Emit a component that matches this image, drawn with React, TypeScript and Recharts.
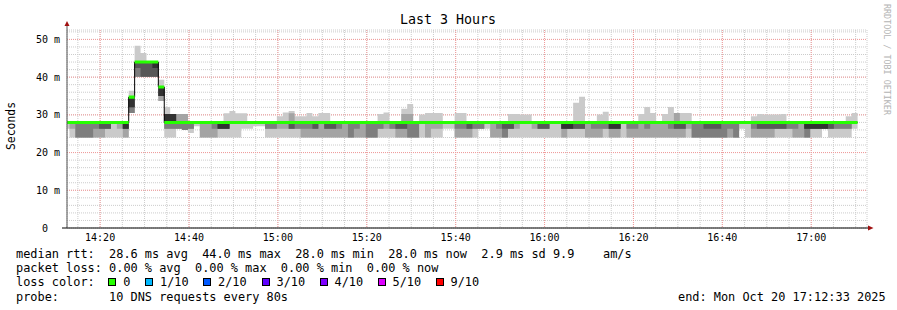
import { ComposedChart, Area, XAxis, YAxis, CartesianGrid } from 'recharts';

const MONO = '"DejaVu Sans Mono", monospace';

// time in seconds after 14:00:00, one rrd step = 80 s
const FIRST_STEP = 706;
const STEP = 80;
const VIEW: [number, number] = [753, 11553]; // 14:12:33 .. 17:12:33

const median = [
  28, 28, 28, 28, 28, 28, 28, 28, 28, 28,
  28, 34.7, 44, 44, 44, 44, 37.4, 28, 28, 28,
  28, 28, 28, 28, 28, 28, 28, 28, 28, 28,
  28, 28, 28, 28, 28, 28, 28, 28, 28, 28,
  28, 28, 28, 28, 28, 28, 28, 28, 28, 28,
  28, 28, 28, 28, 28, 28, 28, 28, 28, 28,
  28, 28, 28, 28, 28, 28, 28, 28, 28, 28,
  28, 28, 28, 28, 28, 28, 28, 28, 28, 28,
  28, 28, 28, 28, 28, 28, 28, 28, 28, 28,
  28, 28, 28, 28, 28, 28, 28, 28, 28, 28,
  28, 28, 28, 28, 28, 28, 28, 28, 28, 28,
  28, 28, 28, 28, 28, 28, 28, 28, 28, 28,
  28, 28, 28, 28, 28, 28, 28, 28, 28, 28,
  28, 28, 28, 28,
];

// the 10 pings of every step, sorted (ms)
const ping1 = [
  26.3, 24, 24, 24, 24, 24, 24, 24, 24, 24,
  24, 30.5, 40.1, 40.1, 40.1, 40.1, 33.7, 24, 24, 26.3,
  26, 25.2, 27, 24, 24, 24, 24, 24, 24, 24,
  26.3, 26.3, 27, 27, 24, 24, 24, 24, 24, 24,
  24, 24, 24, 24, 24, 24, 24, 24, 24, 24,
  24, 24, 24, 24, 24, 24, 24, 24, 24, 24,
  24, 24, 24, 24, 26.3, 26.3, 24, 24, 24, 24,
  26.3, 26.3, 24, 24, 24, 24, 24, 24, 24, 24,
  24, 24, 24, 24, 24, 24, 24, 24, 24, 24,
  24, 24, 24, 24, 24, 24, 24, 24, 24, 24,
  24, 24, 24, 24, 24, 24, 24, 24, 24, 24,
  24, 24, 24, 24, 26.3, 24, 24, 24, 24, 24,
  24, 24, 24, 24, 24, 24, 24, 24, 26.3, 24,
  24, 24, 24, 26.3,
];
const ping2 = [
  28, 26.3, 24, 24, 24, 24, 24, 26.3, 28, 26.3,
  24, 30.5, 40.1, 40.1, 40.1, 40.1, 33.7, 26.3, 26.3, 26.3,
  26, 26.3, 28, 24, 24, 24, 26.3, 26.3, 28, 28,
  28, 28, 28, 28, 26.3, 26.3, 26.3, 26.3, 26.3, 26.3,
  24, 24, 24, 24, 24, 24, 24, 24, 24, 24,
  24, 24, 24, 26.3, 26.3, 26.3, 24, 24, 24, 24,
  28, 24, 26.3, 26.3, 28, 28, 24, 24, 24, 26.3,
  26.3, 28, 24, 24, 24, 26.3, 26.3, 28, 28, 26.3,
  26.3, 26.3, 28, 28, 24, 26.3, 26.3, 26.3, 24, 24,
  24, 26.3, 24, 24, 28, 24, 24, 24, 24, 24,
  24, 24, 24, 24, 24, 26.3, 24, 24, 24, 24,
  24, 24, 24, 24, 28, 28, 24, 24, 24, 24,
  26.3, 26.3, 26.3, 24, 24, 24, 26.3, 26.3, 26.3, 26.3,
  26.3, 26.3, 26.3, 28,
];
const ping3 = [
  28, 28, 24, 24, 24, 26.3, 26.3, 26.3, 28, 28,
  26.3, 30.5, 40.1, 40.1, 40.1, 40.1, 35, 26.3, 26.3, 26.3,
  26, 26.3, 28, 28, 28, 26.3, 26.3, 26.3, 28, 28,
  28, 28, 28, 28, 26.3, 26.3, 28, 28, 26.3, 26.3,
  26.3, 26.3, 26.3, 28, 26.3, 26.3, 26.3, 28, 24, 26.3,
  28, 24, 24, 26.3, 28, 26.3, 26.3, 26.3, 24, 24,
  28, 28, 28, 28, 28, 28, 26.3, 26.3, 26.3, 26.3,
  26.3, 28, 28, 26.3, 24, 26.3, 28, 28, 28, 28,
  26.3, 26.3, 28, 28, 26.3, 26.3, 26.3, 26.3, 28, 26.3,
  26.3, 26.3, 26.3, 26.3, 28, 26.3, 26.3, 28, 26.3, 28,
  28, 28, 26.3, 26.3, 26.3, 28, 24, 24, 24, 24,
  24, 24, 26.3, 24, 28, 28, 26.3, 26.3, 26.3, 26.3,
  26.3, 26.3, 26.3, 26.3, 28, 24, 26.3, 26.3, 26.3, 26.3,
  26.3, 26.3, 26.3, 28,
];
const ping4 = [
  28, 28, 28, 28, 28, 28, 26.3, 26.3, 28, 28,
  26.3, 32, 42.4, 40.1, 40.1, 40.1, 35, 28, 28, 28,
  28, 28, 28, 28, 28, 28, 26.3, 26.3, 28, 28,
  28, 28, 28, 28, 28, 28, 28, 28, 26.3, 28,
  28, 28, 26.3, 28, 26.3, 26.3, 28, 28, 28, 28,
  28, 28, 28, 28, 28, 28, 26.3, 26.3, 28, 28,
  28, 28, 28, 28, 28, 28, 28, 28, 26.3, 28,
  28, 28, 28, 28, 26.3, 26.3, 28, 28, 28, 28,
  26.3, 26.3, 28, 28, 26.3, 26.3, 26.3, 26.3, 28, 28,
  28, 28, 26.3, 26.3, 28, 28, 28, 28, 28, 28,
  28, 28, 28, 26.3, 26.3, 28, 28, 28, 26.3, 26.3,
  26.3, 28, 28, 28, 28, 28, 28, 26.3, 26.3, 26.3,
  26.3, 26.3, 28, 28, 28, 26.3, 26.3, 26.3, 26.3, 26.3,
  28, 28, 28, 28,
];
const ping5 = [
  28, 28, 28, 28, 28, 28, 28, 28, 28, 28,
  26.3, 32, 44, 44, 44, 42.4, 35, 28, 28, 28,
  28, 28, 28, 28, 28, 28, 26.3, 26.3, 28, 28,
  28, 28, 28, 28, 28, 28, 28, 28, 28, 28,
  28, 28, 28, 28, 28, 28, 28, 28, 28, 28,
  28, 28, 28, 28, 28, 28, 28, 28, 28, 28,
  28, 28, 28, 28, 28, 28, 28, 28, 28, 28,
  28, 28, 28, 28, 28, 28, 28, 28, 28, 28,
  28, 28, 28, 28, 26.3, 26.3, 28, 28, 28, 28,
  28, 28, 26.3, 26.3, 28, 28, 28, 28, 28, 28,
  28, 28, 28, 28, 28, 28, 28, 28, 28, 28,
  28, 28, 28, 28, 28, 28, 28, 28, 28, 28,
  28, 28, 28, 28, 28, 26.3, 26.3, 26.3, 26.3, 28,
  28, 28, 28, 28,
];
const ping6 = [
  28, 28, 28, 28, 28, 28, 28, 28, 28, 28,
  28, 34.7, 44, 44, 44, 44, 37.4, 30.2, 30.2, 28,
  28, 28, 28, 28, 28, 28, 28, 28, 28, 28,
  28, 28, 28, 28, 28, 28, 28, 28, 28, 28,
  28, 28, 28, 28, 28, 28, 28, 28, 28, 28,
  28, 28, 28, 28, 28, 28, 28, 28, 28, 28,
  28, 28, 28, 28, 28, 28, 28, 28, 28, 28,
  28, 28, 28, 28, 28, 28, 28, 28, 28, 28,
  28, 28, 28, 28, 28, 28, 28, 28, 28, 28,
  28, 28, 28, 28, 28, 28, 28, 28, 28, 28,
  28, 28, 28, 28, 28, 28, 28, 28, 28, 28,
  28, 28, 28, 28, 28, 28, 28, 28, 28, 28,
  28, 28, 28, 28, 28, 28, 28, 28, 28, 28,
  28, 28, 28, 28,
];
const ping7 = [...ping6];
const ping8 = [...ping6];
const ping9 = [
  28, 28, 28, 28, 28, 28, 28, 28, 28, 28,
  28, 34.7, 44, 44, 44, 44, 37.4, 30.2, 30.2, 30.2,
  30.2, 28, 28, 28, 28, 28, 28, 28, 28, 28,
  28, 28, 28, 28, 28, 28, 28, 28, 30.4, 28,
  28, 28, 28, 28, 28, 28, 28, 28, 28, 28,
  28, 28, 28, 28, 28, 28, 28, 30.2, 30.2, 28,
  28, 28, 28, 28, 28, 28, 28, 28, 28, 28,
  28, 28, 28, 28, 28, 28, 28, 28, 28, 28,
  28, 28, 28, 28, 28, 28, 28, 28, 28, 28,
  28, 28, 28, 28, 28, 28, 28, 28, 28, 28,
  28, 28, 28, 30.5, 28, 28, 28, 28, 28, 28,
  28, 28, 28, 28, 28, 28, 28, 28, 28, 28,
  28, 28, 28, 28, 28, 28, 28, 28, 28, 28,
  28, 28, 28, 28,
];
const ping10 = [
  28, 28, 28, 28, 28, 28, 28, 28, 28, 28,
  28, 36.4, 48.3, 46.4, 44, 44, 39.3, 32.1, 30.2, 30.2,
  30.2, 28, 28, 28, 28, 28, 28, 30.4, 31, 30.4,
  30.4, 28, 28, 28, 28, 28, 29.6, 30.6, 31, 29.6,
  29.6, 30.5, 29.6, 30.5, 30.5, 28, 28, 28, 28, 28,
  28, 28, 28, 30.2, 30.6, 28, 28, 31.6, 32.9, 28,
  30.1, 30.5, 30.5, 30.5, 28, 28, 30.5, 30.5, 28, 28,
  28, 28, 28, 28, 28, 30.2, 30.2, 30.1, 30.1, 28,
  28, 28, 28, 28, 28, 28, 33.2, 34.8, 28, 28,
  30.1, 30.8, 28, 28, 28, 28, 28, 30.2, 32.1, 30.5,
  28, 30.2, 32.1, 30.5, 30.5, 30.5, 28, 28, 28, 28,
  28, 28, 28, 28, 28, 28, 29.6, 30.2, 30.1, 30.1,
  30.1, 30.2, 28, 28, 28, 28, 28, 28, 28, 28,
  28, 28, 29.6, 30.5,
];

// 5 minute grid, labels every 20 minutes
const TIME_TICKS = [
  900, 1200, 1500, 1800, 2100, 2400, 2700, 3000, 3300, 3600, 3900, 4200,
  4500, 4800, 5100, 5400, 5700, 6000, 6300, 6600, 6900, 7200, 7500, 7800,
  8100, 8400, 8700, 9000, 9300, 9600, 9900, 10200, 10500, 10800, 11100, 11400,
];
const TIME_LABELS = [1200, 2400, 3600, 4800, 6000, 7200, 8400, 9600, 10800];
const MS_TICKS = [0, 2, 4, 6, 8, 10, 12, 14, 16, 18, 20, 22, 24, 26, 28, 30, 32, 34, 36, 38, 40, 42, 44, 46, 48, 50, 52];
const MS_LABELS = [10, 20, 30, 40, 50];

const SMOKE = ['#cacaca', '#a4a4a4', '#7e7e7e', '#585858', '#323232'];
const LOSS_LABELS = ['0', '1/10', '2/10', '3/10', '4/10', '5/10', '9/10'];
const LOSS_COLORS = ['#26ff00', '#00b8ff', '#0059ff', '#5e00ff', '#7e00ff', '#dd00ff', '#ff0000'];
const LOSS_X = [123.3, 160, 218, 276.5, 334.5, 392.5, 450.5];

const hhmm = (s: number) => {
  const m = Math.round(s / 60);
  return `${14 + Math.floor(m / 60)}:${String(m % 60).padStart(2, '0')}`;
};

const TimeTick = (props: any) => {
  const { x, payload } = props;
  if (!TIME_LABELS.includes(payload.value)) return <g />;
  return (
    <text x={x} y={241} textAnchor="middle" fontFamily={MONO} fontSize={10} fill="#000">
      {hhmm(payload.value)}
    </text>
  );
};

const MsTick = (props: any) => {
  const { y, payload } = props;
  const v = payload.value;
  if (v % 10 !== 0) return <g />;
  return (
    <text x={v === 0 ? 48 : 60} y={y} dy={3.6} textAnchor="end" fontFamily={MONO} fontSize={10} fill="#000">
      {v === 0 ? '0' : `${v} m`}
    </text>
  );
};

const lineStyle = (top: number): React.CSSProperties => ({
  position: 'absolute',
  top,
  fontFamily: MONO,
  fontSize: 11.9,
  lineHeight: '14px',
  whiteSpace: 'pre',
  color: '#000',
});

export default function App() {
  const rows: any[] = median.map((m, i) => ({
    time: FIRST_STEP + i * STEP,
    median: m,
    green: [m - 0.4, m + 0.4],
    band1: [ping1[i], ping10[i]],
    band2: [ping2[i], ping9[i]],
    band3: [ping3[i], ping8[i]],
    band4: [ping4[i], ping7[i]],
    band5: [ping5[i], ping6[i]],
  }));
  // close the last step
  rows.push({ ...rows[rows.length - 1], time: FIRST_STEP + rows.length * STEP });

  return (
    <div style={{ position: 'absolute', left: 0, top: 0, width: 897, height: 310, background: '#fff', overflow: 'hidden' }}>
      <ComposedChart width={897} height={310} data={rows} margin={{ top: 30, right: 30, bottom: 62, left: 7 }}>
        <CartesianGrid stroke="#cccccc" strokeDasharray="1 1" />
        <CartesianGrid stroke="#f29a9a" strokeDasharray="1 1" horizontalValues={MS_LABELS} verticalValues={TIME_LABELS} />
        <XAxis
          type="number"
          dataKey="time"
          domain={VIEW}
          allowDataOverflow
          ticks={TIME_TICKS}
          interval={0}
          tickLine={false}
          axisLine={{ stroke: '#000' }}
          height={20}
          tick={TimeTick}
        />
        <YAxis
          type="number"
          domain={[0, 52.5]}
          allowDataOverflow
          ticks={MS_TICKS}
          interval={0}
          tickLine={false}
          axisLine={{ stroke: '#555' }}
          width={60}
          tick={MsTick}
        />
        {['band1', 'band2', 'band3', 'band4', 'band5'].map((key, i) => (
          <Area
            key={key}
            type="stepAfter"
            dataKey={key}
            stroke="none"
            fill={SMOKE[i]}
            fillOpacity={1}
            activeDot={false}
            isAnimationActive={false}
          />
        ))}
        <Area type="stepAfter" dataKey="median" stroke="#000" strokeWidth={1} fill="none" activeDot={false} isAnimationActive={false} />
        <Area type="stepAfter" dataKey="green" stroke="none" fill="#26ff00" fillOpacity={1} activeDot={false} isAnimationActive={false} />
      </ComposedChart>

      <svg width={897} height={310} style={{ position: 'absolute', left: 0, top: 0, pointerEvents: 'none' }}>
        <text x={448} y={24} textAnchor="middle" fontFamily={MONO} fontSize={13.3} fill="#000">
          Last 3 Hours
        </text>
        <text transform="translate(15, 126) rotate(-90)" textAnchor="middle" fontFamily={MONO} fontSize={11.4} fill="#000">
          Seconds
        </text>
        <text transform="translate(884, 4) rotate(90)" fontFamily={MONO} fontSize={8.4} fill="#b4b4b4">
          RRDTOOL / TOBI OETIKER
        </text>
        <line x1={67} y1={30} x2={67} y2={25} stroke="#555" />
        <polygon points="64.5,26 69.5,26 67,21" fill="#a01010" />
        <line x1={62} y1={228} x2={67} y2={228} stroke="#000" />
        <line x1={867} y1={228} x2={869} y2={228} stroke="#000" />
        <polygon points="868,225.5 868,230.5 873.5,228" fill="#a01010" />
      </svg>

      <div style={{ ...lineStyle(247.2), left: 16 }}>
        median rtt:  28.6 ms avg  44.0 ms max  28.0 ms min  28.0 ms now  2.9 ms sd 9.9    am/s
      </div>
      <div style={{ ...lineStyle(261.3), left: 16 }}>
        packet loss: 0.00 % avg  0.00 % max  0.00 % min  0.00 % now
      </div>
      <div style={{ ...lineStyle(275.4), left: 16 }}>loss color:</div>
      {LOSS_LABELS.map((label, i) => (
        <div key={label}>
          <div
            style={{
              position: 'absolute',
              left: LOSS_X[i] - 15,
              top: 278.4,
              width: 8,
              height: 8,
              boxSizing: 'border-box',
              border: '1px solid #000',
              background: LOSS_COLORS[i],
            }}
          />
          <div style={{ ...lineStyle(275.4), left: LOSS_X[i] }}>{label}</div>
        </div>
      ))}
      <div style={{ ...lineStyle(289.5), left: 16 }}>probe:       10 DNS requests every 80s</div>
      <div style={{ ...lineStyle(289.5), left: 678 }}>end: Mon Oct 20 17:12:33 2025</div>
    </div>
  );
}
